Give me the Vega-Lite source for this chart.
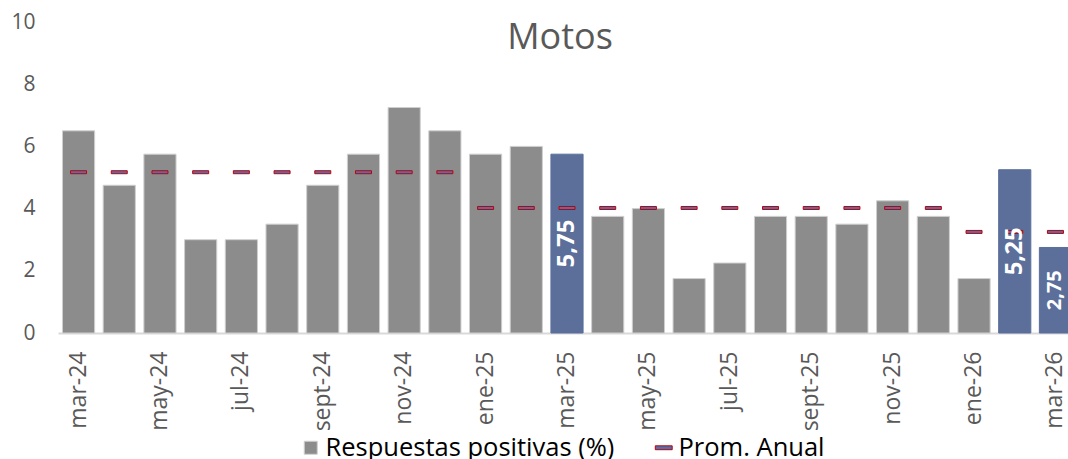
{
  "$schema": "https://vega.github.io/schema/vega-lite/v6.json",
  "autosize": "none",
  "width": 1018,
  "height": 311,
  "padding": {"left": 58, "top": 22, "right": 0, "bottom": 126},
  "background": "white",
  "config": {
    "view": {"stroke": null},
    "locale": {"number": {"decimal": ",", "thousands": ".", "grouping": [3], "currency": ["", " €"]}},
    "legend": {
      "orient": "none",
      "direction": "horizontal",
      "title": null,
      "padding": 0,
      "labelFont": "Open Sans",
      "labelFontSize": 25.5,
      "labelColor": "#000000",
      "labelLimit": 600,
      "labelOffset": 2,
      "symbolSize": 169,
      "symbolStrokeWidth": 1,
      "symbolOpacity": 1
    }
  },
  "title": {
    "text": "Motos",
    "frame": "group",
    "anchor": "middle",
    "baseline": "alphabetic",
    "offset": 0,
    "dy": 74,
    "dx": -7,
    "font": "Open Sans",
    "fontSize": 36,
    "fontWeight": "normal",
    "color": "#595959"
  },
  "data": {
    "values": [
      {"mes": "mar-24", "v": 6.5, "prom": 5.17},
      {"mes": "abr-24", "v": 4.75, "prom": 5.17},
      {"mes": "may-24", "v": 5.75, "prom": 5.17},
      {"mes": "jun-24", "v": 3.0, "prom": 5.17},
      {"mes": "jul-24", "v": 3.0, "prom": 5.17},
      {"mes": "ago-24", "v": 3.5, "prom": 5.17},
      {"mes": "sept-24", "v": 4.75, "prom": 5.17},
      {"mes": "oct-24", "v": 5.75, "prom": 5.17},
      {"mes": "nov-24", "v": 7.25, "prom": 5.17},
      {"mes": "dic-24", "v": 6.5, "prom": 5.17},
      {"mes": "ene-25", "v": 5.75, "prom": 4.02},
      {"mes": "feb-25", "v": 6.0, "prom": 4.02},
      {"mes": "mar-25", "v": 5.75, "prom": 4.02},
      {"mes": "abr-25", "v": 3.75, "prom": 4.02},
      {"mes": "may-25", "v": 4.0, "prom": 4.02},
      {"mes": "jun-25", "v": 1.75, "prom": 4.02},
      {"mes": "jul-25", "v": 2.25, "prom": 4.02},
      {"mes": "ago-25", "v": 3.75, "prom": 4.02},
      {"mes": "sept-25", "v": 3.75, "prom": 4.02},
      {"mes": "oct-25", "v": 3.5, "prom": 4.02},
      {"mes": "nov-25", "v": 4.25, "prom": 4.02},
      {"mes": "dic-25", "v": 3.75, "prom": 4.02},
      {"mes": "ene-26", "v": 1.75, "prom": 3.25},
      {"mes": "feb-26", "v": 5.25, "prom": 3.25},
      {"mes": "mar-26", "v": 2.75, "prom": 3.25}
    ]
  },
  "encoding": {
    "x": {
      "field": "mes",
      "type": "nominal",
      "sort": null,
      "scale": {"paddingInner": 0.21, "paddingOuter": 0.11},
      "axis": {
        "title": null,
        "values": ["mar-24", "may-24", "jul-24", "sept-24", "nov-24", "ene-25", "mar-25", "may-25", "jul-25", "sept-25", "nov-25", "ene-26", "mar-26"],
        "labelAngle": 270,
        "labelFont": "Open Sans",
        "labelFontSize": 23,
        "labelColor": "#595959",
        "ticks": false,
        "labelPadding": 18,
        "domainColor": "#d9d9d9",
        "domainWidth": 2
      }
    }
  },
  "layer": [
    {
      "mark": {"type": "bar", "strokeWidth": 1},
      "encoding": {
        "y": {
          "field": "v",
          "type": "quantitative",
          "scale": {"domain": [0, 10]},
          "axis": {
            "title": null,
            "values": [0, 2, 4, 6, 8, 10],
            "grid": false,
            "domain": false,
            "ticks": false,
            "labelPadding": 23,
            "labelFont": "Open Sans",
            "labelFontSize": 21,
            "labelColor": "#595959"
          }
        },
        "color": {
          "condition": {"test": "indexof(['mar-25','feb-26','mar-26'], datum.mes) >= 0", "value": "#5b6f9a"},
          "datum": "Respuestas positivas (%)",
          "type": "nominal",
          "scale": {"domain": ["Respuestas positivas (%)"], "range": ["#8c8c8c"]},
          "legend": {
            "legendX": 240,
            "legendY": 413,
            "symbolType": "square"
          }
        },
        "stroke": {
          "condition": {"test": "indexof(['mar-25','feb-26','mar-26'], datum.mes) >= 0", "value": "#5b6f9a"},
          "value": "#cfcfcf"
        }
      }
    },
    {
      "mark": {"type": "tick", "size": 16, "thickness": 3, "fill": "#4f6fb0", "strokeWidth": 1, "opacity": 1},
      "encoding": {
        "y": {"field": "prom", "type": "quantitative", "scale": {"domain": [0, 10]}, "axis": null},
        "stroke": {
          "datum": "Prom. Anual",
          "type": "nominal",
          "scale": {"domain": ["Prom. Anual"], "range": ["#c00000"]},
          "legend": {
            "legendX": 593,
            "legendY": 413,
            "symbolType": "M-1.3,-0.3H1.3V0.3H-1.3Z",
            "symbolFillColor": "#4f6fb0",
            "symbolStrokeColor": "#c00000"
          }
        }
      }
    },
    {
      "transform": [{"filter": {"field": "mes", "oneOf": ["mar-25", "feb-26", "mar-26"]}}],
      "mark": {"type": "text", "angle": 270, "align": "center", "baseline": "middle", "color": "white", "font": "Open Sans", "fontWeight": "bold"},
      "encoding": {
        "y": {"field": "v", "type": "quantitative", "scale": {"domain": [0, 20]}, "axis": null},
        "text": {"field": "v", "type": "quantitative", "format": ".2f"},
        "size": {"condition": {"test": "datum.v < 3", "value": 20}, "value": 24}
      }
    }
  ],
  "resolve": {"scale": {"y": "independent"}}
}
